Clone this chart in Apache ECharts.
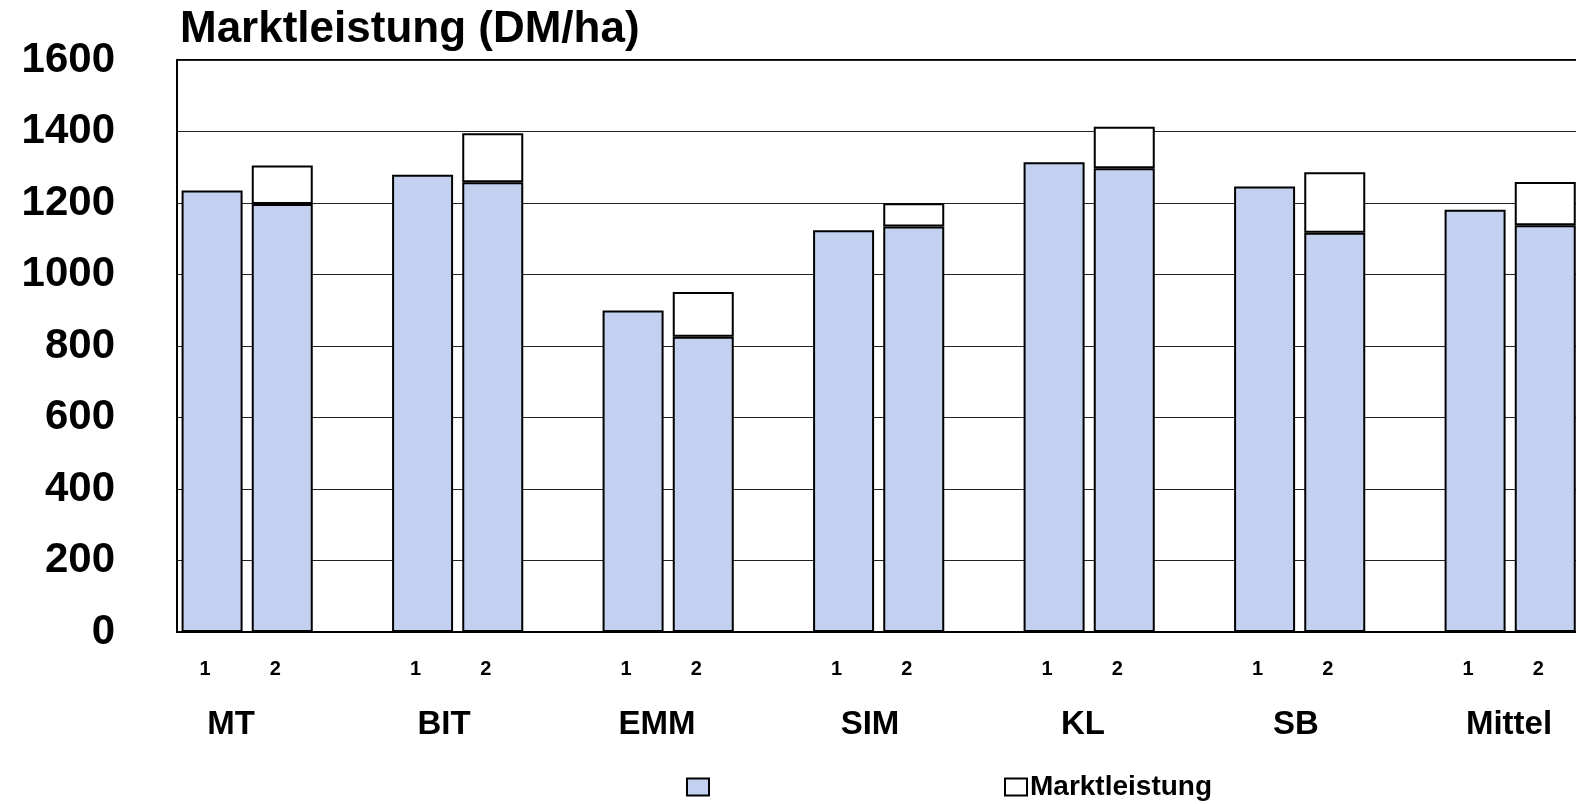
<!DOCTYPE html>
<html>
<head>
<meta charset="utf-8">
<script src="https://cdn.jsdelivr.net/npm/echarts@6/dist/echarts.min.js"></script>
<style>
  html, body { margin: 0; padding: 0; background: #fff; }
  #chart { width: 1576px; height: 804px; }
</style>
</head>
<body>
<div id="chart"></div>
<script>
// Daten
const gruppen = ['MT', 'BIT', 'EMM', 'SIM', 'KL', 'SB', 'Mittel'];
const stufen = ['1', '2'];
const wert1 = [1235, 1279, 899, 1124, 1314, 1246, 1181];      // Balken 1
const wert2 = [1197, 1258, 826, 1134, 1297, 1117, 1138];      // Balken 2, blauer Teil
const marktleistung = [108, 137, 125, 65, 116, 169, 121];     // Balken 2, weisser Aufsatz
const yMax = 1600;
const yStep = 200;

const schrift = "'Liberation Sans', Arial, sans-serif";

// je Gruppe drei Plaetze: 1, 2, Luecke
const slots = [];
const blau = [];
const weiss = [];
gruppen.forEach(function (g, i) {
    slots.push(stufen[0], stufen[1], '');
    blau.push(wert1[i], wert2[i], '-');
    weiss.push('-', marktleistung[i], '-');
});

const chart = echarts.init(document.getElementById('chart'));

const option = {
    animation: false,
    title: {
        text: 'Marktleistung (DM/ha)',
        left: 175,
        top: 3,
        textStyle: { fontFamily: schrift, fontWeight: 'bold', fontSize: 44, color: '#000' }
    },
    legend: {
        left: 681,
        top: 768,
        icon: 'rect',
        itemWidth: 22,
        itemHeight: 17,
        itemGap: 294,
        data: ['blau', 'Marktleistung'],
        formatter: function (name) {
            return name === 'Marktleistung' ? name : '';
        },
        textStyle: { fontFamily: schrift, fontWeight: 'bold', fontSize: 28, color: '#000', padding: [0, 0, 0, -2] }
    },
    grid: [
        {
            left: 177,
            top: 60,
            width: 1473.5,
            height: 572,
            outerBoundsMode: 'none',
            containLabel: false,
            show: true,
            borderColor: '#000',
            borderWidth: 2,
            backgroundColor: 'transparent'
        },
        {
            // nur fuer die Gruppennamen
            left: 124.5,
            top: 60,
            width: 1491,
            height: 572,
            outerBoundsMode: 'none',
            containLabel: false,
            show: false
        }
    ],
    xAxis: [
        {
            type: 'category',
            gridIndex: 0,
            data: slots,
            axisLine: { lineStyle: { color: '#000', width: 2 } },
            axisTick: { show: false },
            axisLabel: {
                interval: 0,
                margin: 27,
                padding: [0, 14, 0, 0],
                fontFamily: schrift,
                fontWeight: 'bold',
                fontSize: 20,
                color: '#000'
            }
        },
        {
            type: 'category',
            gridIndex: 1,
            data: gruppen,
            axisLine: { show: false },
            axisTick: { show: false },
            axisLabel: {
                interval: 0,
                margin: 76,
                fontFamily: schrift,
                fontWeight: 'bold',
                fontSize: 33,
                color: '#000'
            }
        }
    ],
    yAxis: [
        {
            type: 'value',
            gridIndex: 0,
            min: 0,
            max: yMax,
            interval: yStep,
            axisLine: { show: true, lineStyle: { color: '#000', width: 2 } },
            axisTick: { show: false },
            splitLine: { lineStyle: { color: '#222', width: 1 } },
            axisLabel: {
                margin: 62,
                formatter: function (v) { return String(v); },
                fontFamily: schrift,
                fontWeight: 'bold',
                fontSize: 42,
                color: '#000'
            }
        },
        {
            type: 'value',
            gridIndex: 1,
            min: 0,
            max: yMax,
            show: false
        }
    ],
    series: [
        {
            name: 'blau',
            type: 'bar',
            stack: 'summe',
            barWidth: 61,
            data: blau,
            itemStyle: { color: '#c3d0ef', borderColor: '#000', borderWidth: 2 }
        },
        {
            name: 'Marktleistung',
            type: 'bar',
            stack: 'summe',
            barWidth: 61,
            data: weiss,
            itemStyle: { color: '#fff', borderColor: '#000', borderWidth: 2 }
        }
    ]
};

chart.setOption(option);
</script>
</body>
</html>
